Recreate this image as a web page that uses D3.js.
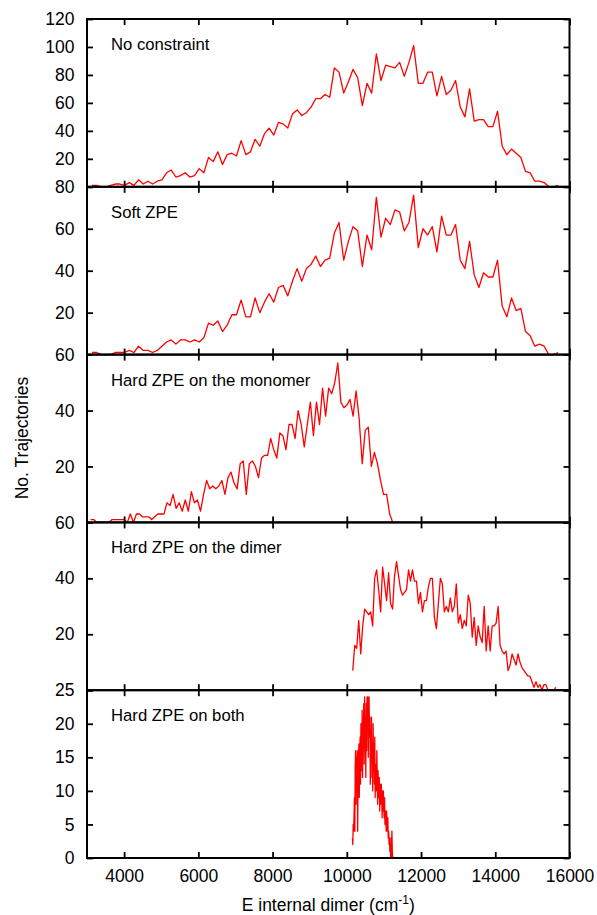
<!DOCTYPE html>
<html>
<head>
<meta charset="utf-8">
<script src="https://cdn.jsdelivr.net/npm/d3@7"></script>
<style>
  body { margin: 0; background: #fff; }
  text { font-family: "Liberation Sans", Arial, Helvetica, sans-serif; fill: #000; }
</style>
</head>
<body>
<svg id="chart" width="597" height="915"></svg>
<script>
// Histograms of the dimer internal energy for five ZPE treatments
const panelNames = ["No constraint", "Soft ZPE", "Hard ZPE on the monomer", "Hard ZPE on the dimer", "Hard ZPE on both"];
const yMaxima = [120, 80, 60, 60, 25];
const yTickSteps = [20, 20, 20, 20, 5];
const xTickValues = [4000, 6000, 8000, 10000, 12000, 14000, 16000];

// first and last bin centre (cm-1) of every histogram; bins are evenly spaced
const binRanges = [[3134, 15694], [3134, 15694], [3100, 11237], [10160, 15633], [10150, 11237]];

const noConstraint = [1,1,0,0,1,2,2,1,3,1, 5,2,4,2,4,5,10,12,7,8, 10,7,8,13,10,21,18,25,16,23,
  24,22,33,23,25,34,29,38,42,37, 46,45,42,52,55,51,53,57,63,63, 66,64,85,82,67,75,84,78,58,74,
  67,95,76,87,86,85,89,79,89,101, 74,74,82,82,65,79,66,69,76,57, 50,70,47,48,48,43,43,54,29,23,
  27,24,21,11,10,4,4,3,0,0, 1];

const softZPE = [1,1,0,0,0,1,1,1,2,1,4, 2,2,1,2,4,6,7,5,7,7, 6,7,6,8,15,14,16,11,14,19,
  19,26,18,18,27,20,25,29,25,32, 33,28,35,41,35,41,43,47,42,45, 46,58,63,45,54,61,59,42,57,50,
  75,56,65,62,69,68,59,63,76,51, 60,57,61,49,66,57,57,62,45,41, 54,38,32,39,37,37,45,23,18,27,
  21,22,11,9,4,5,4,0,0,1];

const hardMonomer = [1,1,0,0,0,0,0,1,1,1, 1,1,0,3,0,3,3,2,2,2, 1,2,3,3,3,
  7,6,10,5,7,4,8,4,11,7, 8,4,10,15,12,13,12,13,15,10, 16,18,14,12,21,22,10,21,22,20,
  16,23,24,24,30,26,23,32,31,26, 35,35,30,40,35,27,35,43,31,43, 35,48,38,48,46,50,57,43,41,42,
  44,38,47,37,21,33,34,20,25,21, 15,10,10,3,0];

const hardDimer = [7,16,15,25,13,23,29,28,27,28, 23,40,43,36,28,44,38,32,42,31,
  29,41,46,41,36,34,35,36,43,39, 43,39,39,31,35,28,32,32,37,40, 40,26,22,31,40,38,28,30,28,33,
  28,30,38,24,27,22,25,23,34,31, 19,26,16,23,19,17,30,14,23,14, 23,23,24,30,16,14,13,14,7,9,
  13,11,9,13,10,8,7,6,5,5, 3,1,3,1,2,0,2,2,0,0, 0,0,1];

const hardBoth = [3,2,5,4,6, 9,4,14,16,8,15, 10,16,4,12,15,17, 9,15,18,11,20,16,
  13,22,12,20,19,23, 14,24,17,21,12,23, 16,24,20,24,15,22, 24,18,21,11,19,15,
  21,12,16,10,20,13, 17,11,18,9,14,13, 10,16,12,8,13,9, 10,12,7,11,8,10,
  11,9,6,10,7,10, 8,6,9,5,7,6, 4,7,5,4,6,3, 4,2,3,1,2,0, 3,0,4,1,0];

const seriesList = [noConstraint, softZPE, hardMonomer, hardDimer, hardBoth];

const svg = d3.select("#chart");
const plotLeft = 87, plotRight = 569.5, plotTop = 19, plotBottom = 858;
const panelH = (plotBottom - plotTop) / panelNames.length;
const tickFont = 17.5, captionFont = 16.7, titleFont = 17.5;

const x = d3.scaleLinear().domain([3000, 16000]).range([plotLeft, plotRight]);

seriesList.forEach((counts, p) => {
  const y0 = plotTop + p * panelH;
  const y = d3.scaleLinear().domain([0, yMaxima[p]]).range([y0 + panelH, y0]);
  const [e0, e1] = binRanges[p];
  const step = (e1 - e0) / (counts.length - 1);
  const points = counts.map((c, i) => [e0 + i * step, c]);

  const g = svg.append("g");

  // data line
  g.append("path")
    .datum(points)
    .attr("fill", "none")
    .attr("stroke", "#ff0000")
    .attr("stroke-width", 1.3)
    .attr("stroke-linejoin", "round")
    .attr("d", d3.line().x(d => x(d[0])).y(d => y(d[1])));

  const yTicks = d3.range(0, yMaxima[p] + 0.001, yTickSteps[p]);
  const isLast = p === panelNames.length - 1;

  // left axis with labels (the zero label is shared with the panel below)
  const leftAxis = g.append("g")
    .attr("transform", `translate(${plotLeft},0)`)
    .call(d3.axisLeft(y).tickValues(yTicks).tickSize(-6).tickPadding(12.5)
      .tickFormat(d => (d === 0 && !isLast) ? "" : d));
  // right axis, ticks only
  const rightAxis = g.append("g")
    .attr("transform", `translate(${plotRight},0)`)
    .call(d3.axisRight(y).tickValues(yTicks).tickSize(-6).tickFormat(""));
  // top and bottom ticks
  const topAxis = g.append("g")
    .attr("transform", `translate(0,${y0})`)
    .call(d3.axisTop(x).tickValues(xTickValues).tickSize(-6).tickFormat(""));
  const bottomAxis = g.append("g")
    .attr("transform", `translate(0,${y0 + panelH})`)
    .call(d3.axisBottom(x).tickValues(xTickValues).tickSize(-6).tickPadding(12)
      .tickFormat(d => isLast ? d : ""));

  [leftAxis, rightAxis, topAxis, bottomAxis].forEach(a => {
    a.select(".domain").remove();
    a.selectAll(".tick line").attr("stroke", "#000").attr("stroke-width", 1.8);
    a.selectAll(".tick text")
      .style("font-family", '"Liberation Sans", Arial, sans-serif')
      .style("font-size", tickFont + "px")
      .attr("fill", "#000");
  });

  // panel frame
  g.append("rect")
    .attr("x", plotLeft).attr("y", y0)
    .attr("width", plotRight - plotLeft).attr("height", panelH)
    .attr("fill", "none").attr("stroke", "#000").attr("stroke-width", 2);

  // panel caption
  g.append("text")
    .attr("x", plotLeft + 24)
    .attr("y", y0 + 31)
    .style("font-size", captionFont + "px")
    .text(panelNames[p]);
});

// axis titles
svg.append("text")
  .attr("transform", `translate(28,438) rotate(-90)`)
  .attr("text-anchor", "middle")
  .style("font-size", titleFont + "px")
  .text("No. Trajectories");

const xTitle = svg.append("text")
  .attr("x", (plotLeft + plotRight) / 2)
  .attr("y", 910.5)
  .attr("text-anchor", "middle")
  .style("font-size", titleFont + "px");
xTitle.append("tspan").text("E internal dimer (cm");
xTitle.append("tspan").attr("dy", "-7").style("font-size", "12px").text("-1");
xTitle.append("tspan").attr("dy", "7").text(")");
</script>
</body>
</html>
